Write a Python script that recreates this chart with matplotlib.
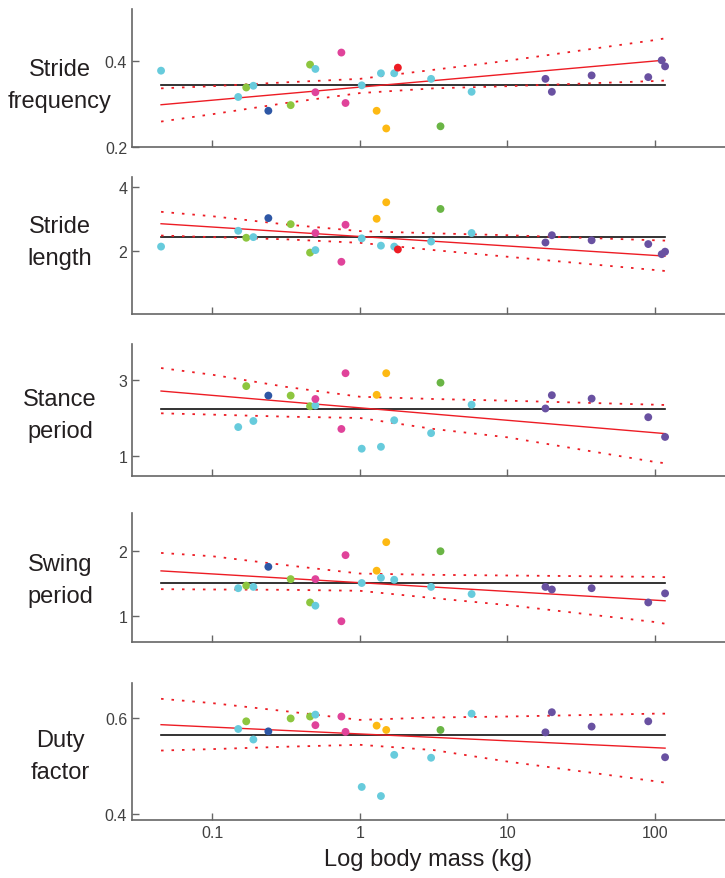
import numpy as np
import matplotlib
matplotlib.use('Agg')
import matplotlib.pyplot as plt

plt.rcParams['font.family'] = ['Liberation Sans', 'DejaVu Sans']

# body mass of each species (kg)
mass = [0.045, 0.15, 0.17, 0.19, 0.24, 0.34, 0.46, 0.50, 0.50, 0.75, 0.80, 1.03, 1.30,
        1.39, 1.51, 1.71, 1.81, 3.04, 3.52, 5.72, 18.1, 20.0, 37.2, 90.0, 111, 117]
# group of each species -> colour
group = ['cyan', 'cyan', 'lime', 'cyan', 'blue', 'lime', 'lime', 'cyan', 'magenta', 'magenta',
         'magenta', 'cyan', 'orange', 'cyan', 'orange', 'cyan', 'red', 'cyan', 'green', 'cyan',
         'purple', 'purple', 'purple', 'purple', 'purple', 'purple']
group_colors = {'cyan': '#67cbdc', 'lime': '#8dc63f', 'green': '#6ab545', 'blue': '#2e57a5',
                'magenta': '#e0439a', 'orange': '#fdb913', 'red': '#ed1c24', 'purple': '#6951a1'}

nan = np.nan
stride_freq = [0.377, 0.316, 0.338, 0.342, 0.284, 0.297, 0.391, 0.381, 0.327, 0.419, 0.302, 0.343, 0.284,
               0.371, 0.243, 0.371, 0.384, 0.358, 0.248, 0.328, 0.358, 0.328, 0.366, 0.362, 0.401, 0.387]
stride_len = [2.13, 2.63, 2.41, 2.43, 3.03, 2.84, 1.94, 2.02, 2.56, 1.65, 2.82, 2.39, 3.01,
              2.16, 3.53, 2.13, 2.04, 2.29, 3.32, 2.56, 2.26, 2.49, 2.33, 2.21, 1.89, 1.97]
stance = [nan, 1.76, 2.84, 1.92, 2.59, 2.59, 2.31, 2.33, 2.50, 1.71, 3.18, 1.19, 2.61,
          1.24, 3.18, 1.94, nan, 1.60, 2.93, 2.35, 2.25, 2.60, 2.51, 2.02, nan, 1.50]
swing = [nan, 1.43, 1.47, 1.45, 1.76, 1.57, 1.21, 1.16, 1.57, 0.92, 1.94, 1.51, 1.70,
         1.59, 2.14, 1.56, nan, 1.45, 2.00, 1.34, 1.45, 1.41, 1.43, 1.21, nan, 1.35]
duty = [nan, 0.578, 0.594, 0.556, 0.573, 0.600, 0.604, 0.608, 0.586, 0.604, 0.572, 0.457, 0.585,
        0.438, 0.576, 0.524, nan, 0.518, 0.576, 0.610, 0.571, 0.613, 0.583, 0.594, nan, 0.519]

# mean line, regression line end points, and confidence band
fit_x = [0.045, 117]
ci_x = [0.045, 0.1, 0.316, 1, 3.16, 10, 100, 117]

freq_mean = 0.343
freq_fit = [0.298, 0.4015]
freq_up = [0.336, 0.341, 0.350, 0.358, 0.379, 0.400, 0.448, 0.452]
freq_lo = [0.259, 0.276, 0.302, 0.325, 0.336, 0.341, 0.353, 0.354]

len_mean = 2.43
len_fit = [2.853, 1.83]
len_up = [3.23, 3.09, 2.83, 2.62, 2.55, 2.49, 2.33, 2.32]
len_lo = [2.48, 2.43, 2.36, 2.25, 2.02, 1.81, 1.39, 1.36]

stance_mean = 2.246
stance_fit = [2.71, 1.588]
stance_up = [3.316, 3.14, 2.82, 2.56, 2.50, 2.456, 2.35, 2.342]
stance_lo = [2.123, 2.088, 2.035, 2.00, 1.71, 1.49, 0.84, 0.807]

swing_mean = 1.503
swing_fit = [1.697, 1.236]
swing_up = [1.974, 1.923, 1.785, 1.656, 1.636, 1.626, 1.605, 1.600]
swing_lo = [1.415, 1.410, 1.405, 1.390, 1.277, 1.170, 0.908, 0.882]

duty_mean = 0.566
duty_fit = [0.587, 0.538]
duty_up = [0.641, 0.632, 0.615, 0.597, 0.602, 0.604, 0.610, 0.610]
duty_lo = [0.533, 0.536, 0.541, 0.545, 0.534, 0.510, 0.469, 0.466]

panels = [
    (('Stride', 'frequency'), stride_freq, freq_mean, freq_fit, freq_up, freq_lo, (0.2, 0.52), [0.2, 0.4]),
    (('Stride', 'length'), stride_len, len_mean, len_fit, len_up, len_lo, (0.0, 4.33), [2, 4]),
    (('Stance', 'period'), stance, stance_mean, stance_fit, stance_up, stance_lo, (0.47, 3.95), [1, 3]),
    (('Swing', 'period'), swing, swing_mean, swing_fit, swing_up, swing_lo, (0.6, 2.59), [1, 2]),
    (('Duty', 'factor'), duty, duty_mean, duty_fit, duty_up, duty_lo, (0.388, 0.674), [0.4, 0.6]),
]

# axes top / bottom in pixels
W, H = 725, 879
boxes = [(10, 148), (178, 315), (345, 477), (514, 643), (684, 821)]
label_y = [86, 243, 416, 581, 757]

fig = plt.figure(figsize=(W / 100, H / 100), dpi=100)
colors = [group_colors[g] for g in group]

for i, (name, vals, mean, fit, up, lo, ylim, yt) in enumerate(panels):
    top, bot = boxes[i]
    ax = fig.add_axes([132 / W, 1 - bot / H, 1 - 132 / W, (bot - top) / H])
    ax.set_xscale('log')
    ax.set_xlim(0.0286, 298)
    ax.set_ylim(*ylim)

    ax.plot(fit_x, [mean, mean], color='#111111', lw=1.2, zorder=1)
    ax.plot(fit_x, fit, color='#ed1c24', lw=1.0, zorder=2)
    ax.plot(ci_x, up, color='#ed1c24', lw=1.3, ls=(0, (1.4, 4.4)), zorder=2)
    ax.plot(ci_x, lo, color='#ed1c24', lw=1.3, ls=(0, (1.4, 4.4)), zorder=2)
    ax.scatter(mass, vals, c=colors, s=32, linewidths=0, zorder=3)

    for s in ['top', 'right']:
        ax.spines[s].set_visible(False)
    for s in ['left', 'bottom']:
        ax.spines[s].set_color('#666666')
        ax.spines[s].set_linewidth(1.2)

    ax.set_yticks(yt)
    ax.set_yticklabels([('%g' % v) for v in yt])
    ax.set_xticks([0.1, 1, 10, 100])
    ax.minorticks_off()
    ax.tick_params(direction='in', length=5, width=1, color='#666666',
                   labelsize=11.5, labelcolor='#404040')
    if i < 4:
        ax.set_xticklabels([])
    else:
        ax.set_xticklabels(['0.1', '1', '10', '100'])
        ax.set_xlabel('Log body mass (kg)', fontsize=17, color='#231f20', labelpad=6)

    # two-line row label, one text per line
    fig.text(60 / W, 1 - (label_y[i] - 16) / H, name[0], fontsize=17, ha='center',
             va='center', color='#231f20')
    fig.text(60 / W, 1 - (label_y[i] + 16) / H, name[1], fontsize=17, ha='center',
             va='center', color='#231f20')

fig.savefig('out.png', dpi=100)
